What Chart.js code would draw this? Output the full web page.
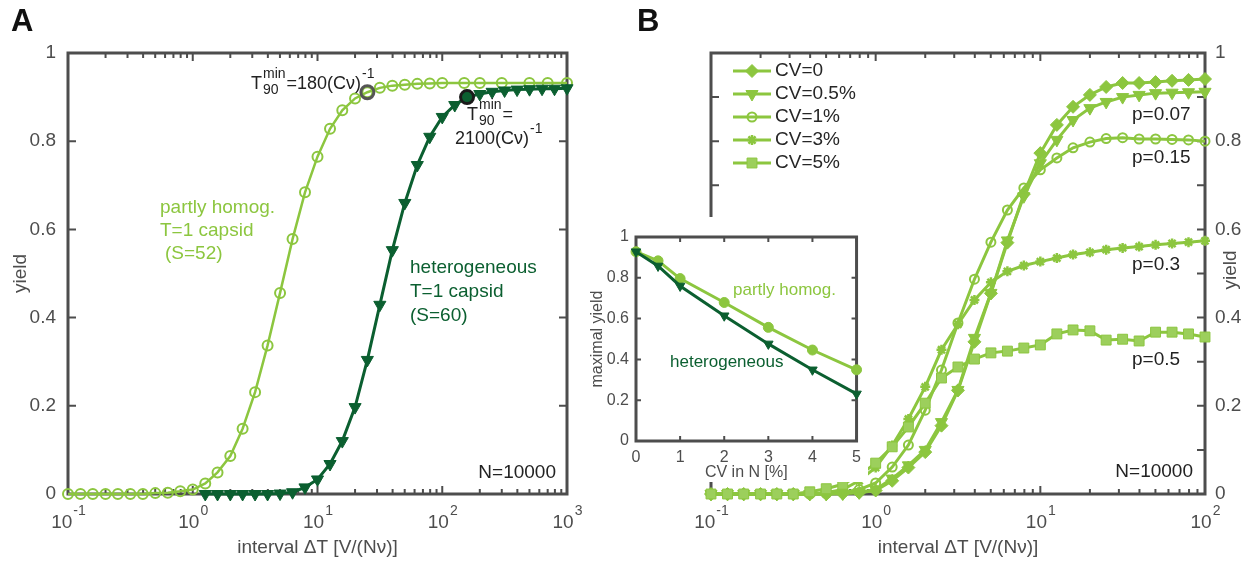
<!DOCTYPE html>
<html>
<head>
<meta charset="utf-8">
<script src="https://cdn.jsdelivr.net/npm/chart.js"></script>
<style>
  body { margin: 0; background: #fff; }
  #wrap { position: relative; width: 1257px; height: 568px; overflow: hidden; }
  canvas { position: absolute; }
</style>
</head>
<body>
<div id="wrap">
  <canvas id="chartA" width="620" height="568" style="left:0;top:0"></canvas>
  <canvas id="chartB" width="627" height="568" style="left:630px;top:0"></canvas>
  <canvas id="inset" width="280" height="265" style="left:588px;top:217px;background:#fff"></canvas>
</div>
<script>
// ---- panel A data ----
const xA = [0.1, 0.126, 0.158, 0.2, 0.251, 0.316, 0.398, 0.501, 0.631, 0.794, 1, 1.26, 1.58, 2, 2.51, 3.16, 3.98, 5.01, 6.31, 7.94,
            10, 12.6, 15.8, 20, 25.1, 31.6, 39.8, 50.1, 63.1, 79.4, 100, 150, 200, 300, 500, 700, 1000];
const homogA = [0, 0, 0, 0, 0, 0, 0, 0.002, 0.003, 0.006, 0.01, 0.024, 0.049, 0.086, 0.148, 0.231, 0.337, 0.456, 0.578, 0.684,
                0.765, 0.828, 0.87, 0.897, 0.911, 0.921, 0.926, 0.928, 0.93, 0.931, 0.932, 0.932, 0.932, 0.932, 0.932, 0.932, 0.932];
const xHetA = [1.26, 1.58, 2, 2.51, 3.16, 3.98, 5.01, 6.31, 7.94, 10, 12.6, 15.8, 20, 25.1, 31.6, 39.8, 50.1, 63.1, 79.4, 100,
               126, 158, 200, 251, 316, 398, 501, 631, 794, 1000];
const hetA = [0, 0, 0, 0, 0, 0, 0.001, 0.004, 0.015, 0.033, 0.068, 0.12, 0.197, 0.304, 0.429, 0.553, 0.66, 0.746, 0.81, 0.855,
              0.882, 0.9, 0.907, 0.912, 0.915, 0.917, 0.918, 0.919, 0.919, 0.92];
const t90X = [25.1, 158];
const t90Y = [0.911, 0.9];

// ---- panel B data ----
const xB = [0.1, 0.126, 0.158, 0.2, 0.251, 0.316, 0.398, 0.501, 0.631, 0.794, 1, 1.26, 1.58, 2, 2.51, 3.16, 3.98, 5.01, 6.31, 7.94,
            10, 12.6, 15.8, 20, 25.1, 31.6, 39.8, 50.1, 63.1, 79.4, 100];
const cv0  = [0, 0, 0, 0, 0, 0, 0, 0, 0.001, 0.003, 0.008, 0.03, 0.06, 0.095, 0.155, 0.235, 0.345, 0.455, 0.57, 0.68,
              0.773, 0.837, 0.878, 0.905, 0.923, 0.932, 0.932, 0.934, 0.937, 0.939, 0.941];
const cv05 = [0, 0, 0, 0, 0, 0, 0, 0, 0.001, 0.004, 0.01, 0.035, 0.065, 0.1, 0.163, 0.236, 0.354, 0.456, 0.575, 0.675,
              0.75, 0.803, 0.848, 0.875, 0.889, 0.9, 0.905, 0.909, 0.91, 0.911, 0.912];
const cv1  = [0, 0, 0, 0, 0, 0, 0, 0.001, 0.004, 0.01, 0.025, 0.061, 0.111, 0.19, 0.281, 0.388, 0.487, 0.571, 0.644, 0.694,
              0.735, 0.762, 0.785, 0.798, 0.806, 0.808, 0.805, 0.805, 0.804, 0.803, 0.8];
const cv3  = [0, 0, 0, 0, 0, 0, 0, 0.003, 0.01, 0.03, 0.06, 0.11, 0.17, 0.243, 0.327, 0.385, 0.44, 0.48, 0.505, 0.518,
              0.527, 0.535, 0.543, 0.548, 0.554, 0.558, 0.561, 0.565, 0.568, 0.571, 0.574];
const cv5  = [0, 0, 0, 0, 0, 0, 0.005, 0.012, 0.022, 0.042, 0.07, 0.107, 0.152, 0.206, 0.263, 0.288, 0.306, 0.32, 0.324, 0.331,
              0.338, 0.363, 0.372, 0.37, 0.349, 0.351, 0.347, 0.367, 0.367, 0.363, 0.356];
const cvNames = ['CV=0', 'CV=0.5%', 'CV=1%', 'CV=3%', 'CV=5%'];

// ---- inset data ----
const cvInset = [0, 0.5, 1, 2, 3, 4, 5];
const homogInset = [0.928, 0.883, 0.796, 0.679, 0.557, 0.446, 0.349];
const hetInset = [0.928, 0.858, 0.76, 0.614, 0.476, 0.349, 0.231];

// ---- ticks ----
const decadesA = [0.1, 1, 10, 100, 1000];
const decadeExpA = ['-1', '0', '1', '2', '3'];
const decadesB = [0.1, 1, 10, 100];
const decadeExpB = ['-1', '0', '1', '2'];
const yieldTicks = [0, 0.2, 0.4, 0.6, 0.8, 1];
const yieldLabels = ['0', '0.2', '0.4', '0.6', '0.8', '1'];
const yieldTicksFine = [0, 0.1, 0.2, 0.3, 0.4, 0.5, 0.6, 0.7, 0.8, 0.9, 1];
const cvTicks = [0, 1, 2, 3, 4, 5];
const cvLabels = ['0', '1', '2', '3', '4', '5'];

const light = '#8cc63f';
const dark = '#0b5f30';
const grey = '#4d4d4d';
const ink = '#222222';
const FONT = "'Liberation Sans', Arial, Helvetica, sans-serif";
Chart.defaults.font.family = FONT;

const pts = (xs, ys) => xs.map((x, i) => ({ x: x, y: ys[i] }));

const f19 = '19px ' + FONT, f18 = '18px ' + FONT, f14 = '14px ' + FONT, f13 = '13px ' + FONT;
const bold = 'bold 31px ' + FONT;

// box with inward ticks, drawn under the data like matlab does
function boxPlugin(cfg) {
  return {
    id: 'box',
    beforeDatasetsDraw(chart) {
      const ctx = chart.ctx, a = chart.chartArea;
      const sx = chart.scales.x, sy = chart.scales.y;
      ctx.save();
      ctx.strokeStyle = grey;
      ctx.lineWidth = 2;
      ctx.beginPath();
      const vt = (v, L) => {
        const p = sx.getPixelForValue(v);
        ctx.moveTo(p, a.bottom); ctx.lineTo(p, a.bottom - L);
        ctx.moveTo(p, a.top); ctx.lineTo(p, a.top + L);
      };
      const ht = (v, L) => {
        const p = sy.getPixelForValue(v);
        ctx.moveTo(a.left, p); ctx.lineTo(a.left + L, p);
        ctx.moveTo(a.right, p); ctx.lineTo(a.right - L, p);
      };
      cfg.xTicks.forEach(v => vt(v, cfg.major));
      if (cfg.logMinor) {
        for (let e = Math.round(Math.log10(sx.min)); e < Math.round(Math.log10(sx.max)); e++) {
          for (let d = 2; d < 10; d++) vt(d * Math.pow(10, e), cfg.minor);
        }
      }
      cfg.yTicks.forEach(v => ht(v, cfg.major));
      ctx.stroke();
      ctx.lineWidth = 3;
      ctx.strokeRect(a.left, a.top, a.right - a.left, a.bottom - a.top);
      ctx.restore();
    }
  };
}

// 10^n labels under a log axis
function decadePlugin(vals, exps) {
  return {
    id: 'decades',
    afterDraw(chart) {
      const ctx = chart.ctx, sx = chart.scales.x, yb = chart.chartArea.bottom;
      ctx.save();
      ctx.fillStyle = grey;
      ctx.textAlign = 'left';
      ctx.textBaseline = 'alphabetic';
      vals.forEach((v, i) => {
        ctx.font = f19;
        const w1 = ctx.measureText('10').width;
        ctx.font = f14;
        const w2 = ctx.measureText(exps[i]).width;
        const x0 = sx.getPixelForValue(v) - (w1 + w2) / 2;
        ctx.font = f19;
        ctx.fillText('10', x0, yb + 34);
        ctx.font = f14;
        ctx.fillText(exps[i], x0 + w1 + 1, yb + 21);
      });
      ctx.restore();
    }
  };
}

// plain labels, plus runs of text with sub/superscripts
function notesPlugin(items) {
  return {
    id: 'notes',
    afterDatasetsDraw(chart) {
      const ctx = chart.ctx;
      items.forEach(n => {
        ctx.save();
        ctx.fillStyle = n.c;
        if (n.parts) {
          let x = n.x;
          ctx.textAlign = 'left';
          ctx.textBaseline = 'alphabetic';
          n.parts.forEach(p => {
            if (p.t) {
              ctx.font = f18;
              ctx.fillText(p.t, x, n.y);
              x += ctx.measureText(p.t).width;
            } else {
              ctx.font = f14;
              let w = 0;
              if (p.sup) { ctx.fillText(p.sup, x + 1, n.y - 11); w = Math.max(w, ctx.measureText(p.sup).width); }
              if (p.sub) { ctx.fillText(p.sub, x + 1, n.y + 5); w = Math.max(w, ctx.measureText(p.sub).width); }
              x += w + 2;
            }
          });
        } else {
          ctx.font = n.f;
          ctx.textAlign = n.a || 'left';
          ctx.textBaseline = n.b || 'middle';
          ctx.translate(n.x, n.y);
          if (n.r) ctx.rotate(n.r);
          ctx.fillText(n.t, 0, 0);
        }
        ctx.restore();
      });
    }
  };
}

function logX(min, max, title) {
  return {
    type: 'logarithmic', min: min, max: max,
    grid: { display: false, drawTicks: false }, border: { display: false },
    afterFit: s => { s.height = 74; },
    ticks: { display: false },
    title: { display: true, text: title, color: grey, font: { size: 19 }, padding: { top: 0, bottom: 9 } }
  };
}

// ---------------- panel A ----------------
new Chart(document.getElementById('chartA'), {
  type: 'line',
  data: {
    datasets: [
      { data: pts(t90X.slice(0, 1), t90Y.slice(0, 1)), showLine: false, pointRadius: 6.5, pointBorderWidth: 3,
        pointBorderColor: '#555555', pointBackgroundColor: 'rgba(0,0,0,0)', order: 0, clip: false },
      { data: pts(t90X.slice(1), t90Y.slice(1)), showLine: false, pointRadius: 6.5, pointBorderWidth: 3,
        pointBorderColor: '#1a1a1a', pointBackgroundColor: dark, order: 0, clip: false },
      { data: pts(xHetA, hetA), borderColor: dark, borderWidth: 3, tension: 0,
        pointStyle: 'triangle', pointRotation: 180, pointRadius: 7, pointBorderWidth: 1,
        pointBackgroundColor: dark, pointBorderColor: dark, order: 1, clip: false },
      { data: pts(xA, homogA), borderColor: light, borderWidth: 2.5, tension: 0,
        pointStyle: 'circle', pointRadius: 5, pointBorderWidth: 2,
        pointBackgroundColor: 'rgba(0,0,0,0)', pointBorderColor: light, order: 2, clip: false }
    ]
  },
  options: {
    responsive: false, animation: false,
    layout: { padding: { left: 0, right: 53, top: 53, bottom: 0 } },
    plugins: { legend: { display: false }, tooltip: { enabled: false } },
    scales: {
      x: logX(0.1, 1000, 'interval ΔT [V/(Nν)]'),
      y: {
        min: 0, max: 1,
        grid: { display: false, drawTicks: false }, border: { display: false },
        afterBuildTicks: s => { s.ticks = yieldTicks.map(v => ({ value: v })); },
        afterFit: s => { s.width = 68; },
        ticks: { padding: 12, color: grey, font: { size: 19 }, callback: (v, i) => yieldLabels[i] },
        title: { display: true, text: 'yield', color: grey, font: { size: 19 }, padding: { top: 9, bottom: 0 } }
      }
    }
  },
  plugins: [
    boxPlugin({ xTicks: decadesA, yTicks: yieldTicks, logMinor: true, major: 8, minor: 5 }),
    decadePlugin(decadesA, decadeExpA),
    notesPlugin([
      { t: 'A', x: 11, y: 22, f: bold, c: '#111' },
      { t: 'partly homog.', x: 160, y: 208, f: f19, c: light },
      { t: 'T=1 capsid', x: 160, y: 231, f: f19, c: light },
      { t: '(S=52)', x: 165, y: 254, f: f19, c: light },
      { t: 'heterogeneous', x: 410, y: 268, f: f19, c: dark },
      { t: 'T=1 capsid', x: 410, y: 292, f: f19, c: dark },
      { t: '(S=60)', x: 410, y: 316, f: f19, c: dark },
      { t: 'N=10000', x: 556, y: 473, f: f19, c: ink, a: 'right' },
      { c: ink, x: 251, y: 89, parts: [{ t: 'T' }, { sup: 'min', sub: '90' }, { t: '=180(Cν)' }, { sup: '-1' }] },
      { c: ink, x: 467, y: 120, parts: [{ t: 'T' }, { sup: 'min', sub: '90' }, { t: '=' }] },
      { c: ink, x: 455, y: 144, parts: [{ t: '2100(Cν)' }, { sup: '-1' }] }
    ])
  ]
});

// ---------------- panel B ----------------
const legendRows = [71, 94, 117, 140, 163];
const legendPlugin = {
  id: 'cvLegend',
  afterDatasetsDraw(chart) {
    const ctx = chart.ctx;
    const drawPoint = Chart.helpers && Chart.helpers.drawPoint;
    cvNames.forEach((name, i) => {
      const ds = chart.data.datasets[i];
      const yy = legendRows[i];
      ctx.save();
      ctx.strokeStyle = light;
      ctx.lineWidth = 3;
      ctx.beginPath(); ctx.moveTo(103, yy); ctx.lineTo(141, yy); ctx.stroke();
      if (drawPoint) {
        ctx.fillStyle = ds.pointBackgroundColor;
        ctx.lineWidth = ds.pointBorderWidth;
        drawPoint(ctx, { pointStyle: ds.pointStyle, rotation: ds.pointRotation || 0,
                         radius: ds.pointRadius, borderWidth: ds.pointBorderWidth }, 122, yy);
      }
      ctx.fillStyle = '#262626';
      ctx.font = f19;
      ctx.textBaseline = 'middle';
      ctx.fillText(name, 145, yy);
      ctx.restore();
    });
  }
};

new Chart(document.getElementById('chartB'), {
  type: 'line',
  data: {
    datasets: [
      { data: pts(xB, cv0), borderColor: light, borderWidth: 3, tension: 0, pointStyle: 'rectRot', pointRadius: 6.5,
        pointBorderWidth: 1, pointBackgroundColor: light, pointBorderColor: light, order: 5, clip: false },
      { data: pts(xB, cv05), borderColor: light, borderWidth: 3, tension: 0, pointStyle: 'triangle', pointRotation: 180,
        pointRadius: 7, pointBorderWidth: 1, pointBackgroundColor: light, pointBorderColor: light, order: 4, clip: false },
      { data: pts(xB, cv1), borderColor: light, borderWidth: 3, tension: 0, pointStyle: 'circle', pointRadius: 4.5,
        pointBorderWidth: 2, pointBackgroundColor: 'rgba(0,0,0,0)', pointBorderColor: light, order: 3, clip: false },
      { data: pts(xB, cv3), borderColor: light, borderWidth: 3, tension: 0, pointStyle: 'star', pointRadius: 5,
        pointBorderWidth: 2.5, pointBackgroundColor: light, pointBorderColor: light, order: 2, clip: false },
      { data: pts(xB, cv5), borderColor: light, borderWidth: 3, tension: 0, pointStyle: 'rect', pointRadius: 7,
        pointBorderWidth: 1, pointBackgroundColor: '#9ccf5c', pointBorderColor: light, order: 1, clip: false }
    ]
  },
  options: {
    responsive: false, animation: false,
    layout: { padding: { left: 81, right: 0, top: 53, bottom: 0 } },
    plugins: { legend: { display: false }, tooltip: { enabled: false } },
    scales: {
      x: logX(0.1, 100, 'interval ΔT [V/(Nν)]'),
      y: {
        position: 'right', min: 0, max: 1,
        grid: { display: false, drawTicks: false }, border: { display: false },
        afterBuildTicks: s => { s.ticks = yieldTicks.map(v => ({ value: v })); },
        afterFit: s => { s.width = 52; },
        ticks: { padding: 10, color: grey, font: { size: 19 }, callback: (v, i) => yieldLabels[i] }
      }
    }
  },
  plugins: [
    boxPlugin({ xTicks: decadesB, yTicks: yieldTicksFine, logMinor: true, major: 8, minor: 5 }),
    decadePlugin(decadesB, decadeExpB),
    legendPlugin,
    notesPlugin([
      { t: 'B', x: 7, y: 22, f: bold, c: '#111' },
      { t: 'p=0.07', x: 502, y: 115, f: f19, c: ink },
      { t: 'p=0.15', x: 502, y: 158, f: f19, c: ink },
      { t: 'p=0.3', x: 502, y: 265, f: f19, c: ink },
      { t: 'p=0.5', x: 502, y: 360, f: f19, c: ink },
      { t: 'N=10000', x: 563, y: 472, f: f19, c: ink, a: 'right' },
      { t: 'yield', x: 601, y: 270, f: f19, c: grey, a: 'center', r: -Math.PI / 2 }
    ])
  ]
});

// ---------------- inset ----------------
new Chart(document.getElementById('inset'), {
  type: 'line',
  data: {
    datasets: [
      { data: pts(cvInset, hetInset), borderColor: dark, borderWidth: 3, tension: 0, pointStyle: 'triangle',
        pointRotation: 180, pointRadius: 5.5, pointBorderWidth: 1, pointBackgroundColor: dark, pointBorderColor: dark,
        order: 0, clip: false },
      { data: pts(cvInset, homogInset), borderColor: light, borderWidth: 3, tension: 0, pointStyle: 'circle',
        pointRadius: 5, pointBorderWidth: 1, pointBackgroundColor: light, pointBorderColor: light, order: 1, clip: false }
    ]
  },
  options: {
    responsive: false, animation: false,
    layout: { padding: { left: 0, right: 7, top: 20, bottom: 0 } },
    plugins: { legend: { display: false }, tooltip: { enabled: false } },
    scales: {
      x: {
        type: 'linear', min: 0, max: 5,
        grid: { display: false, drawTicks: false }, border: { display: false },
        afterBuildTicks: s => { s.ticks = cvTicks.map(v => ({ value: v })); },
        afterFit: s => { s.height = 41; },
        ticks: { padding: 7, color: grey, font: { size: 16 }, maxRotation: 0, autoSkip: false,
                 callback: (v, i) => cvLabels[i] },
        title: { display: true, text: 'CV in N [%]', color: grey, font: { size: 16 }, padding: { top: 0, bottom: 0 } }
      },
      y: {
        min: 0, max: 1,
        grid: { display: false, drawTicks: false }, border: { display: false },
        afterBuildTicks: s => { s.ticks = yieldTicks.map(v => ({ value: v })); },
        afterFit: s => { s.width = 48; },
        ticks: { padding: 7, color: grey, font: { size: 16 }, callback: (v, i) => yieldLabels[i] },
        title: { display: true, text: 'maximal yield', color: grey, font: { size: 16 }, padding: { top: 0, bottom: 0 } }
      }
    }
  },
  plugins: [
    boxPlugin({ xTicks: cvTicks, yTicks: yieldTicks, logMinor: false, major: 5, minor: 0 }),
    notesPlugin([
      { t: 'partly homog.', x: 145, y: 73, f: '17px ' + FONT, c: light },
      { t: 'heterogeneous', x: 82, y: 145, f: '17px ' + FONT, c: dark }
    ])
  ]
});
</script>
</body>
</html>
